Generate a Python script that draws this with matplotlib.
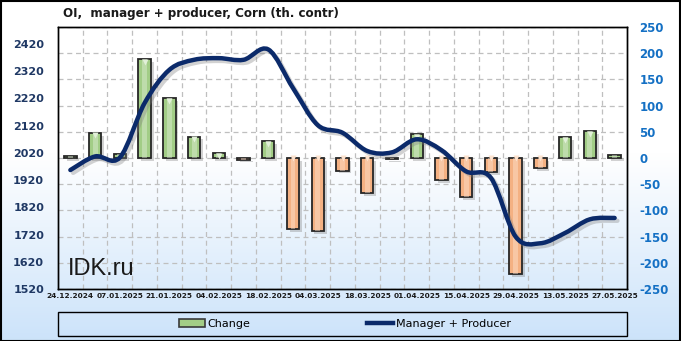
import numpy as np
import matplotlib
matplotlib.use("Agg")
import matplotlib.pyplot as plt
import matplotlib.patheffects as pe
from matplotlib.path import Path
from matplotlib.patches import PathPatch, Rectangle, Patch
from matplotlib.lines import Line2D

dates = ["24.12.2024", "31.12.2024", "07.01.2025", "14.01.2025", "21.01.2025",
         "28.01.2025", "04.02.2025", "11.02.2025", "18.02.2025", "25.02.2025",
         "04.03.2025", "11.03.2025", "18.03.2025", "25.03.2025", "01.04.2025",
         "08.04.2025", "15.04.2025", "22.04.2025", "29.04.2025", "06.05.2025",
         "13.05.2025", "20.05.2025", "27.05.2025"]

change = [4, 48, 8, 189, 114, 41, 9, -3, 32, -136, -139, -24, -67, -2,
          45, -42, -74, -27, -221, -20, 40, 51, 5]

manager_producer = [1957, 2007, 2003, 2203, 2325, 2362, 2368, 2362, 2400, 2258,
                    2122, 2094, 2027, 2022, 2070, 2030, 1952, 1928, 1712, 1688,
                    1726, 1776, 1781]

left_ticks = list(range(1520, 2421, 100))
right_ticks = list(range(-250, 251, 50))

W, H = 681, 341
fig = plt.figure(figsize=(W / 100, H / 100), dpi=100)

# background gradient (white -> light blue)
bg = fig.add_axes([0, 0, 1, 1], zorder=-10)
grad = np.linspace(0, 1, 256)[:, None]
grad = np.clip((grad - 0.45) / 0.55, 0, 1)
top_c = np.array([1.0, 1.0, 1.0])
bot_c = np.array([0.80, 0.89, 0.98])
img = top_c * (1 - grad[..., None]) + bot_c * grad[..., None]
bg.imshow(img, aspect="auto", extent=[0, 1, 0, 1], origin="upper")
bg.set_axis_off()

left, right, top, bottom = 58, 627, 27, 289
rect = [left / W, 1 - bottom / H, (right - left) / W, (bottom - top) / H]

ax_bar = fig.add_axes(rect)
ax_bar.patch.set_alpha(0)
ax_line = ax_bar.twinx()

x = np.arange(len(dates))
green, orange = "#A2CD86", "#F4B183"
cols = [green if v >= 0 else orange for v in change]
light = ["#E2F0D9" if v >= 0 else "#FDE3CF" for v in change]

bars = ax_bar.bar(x, change, width=0.5, color=cols, edgecolor="#262626",
                  linewidth=1.3, zorder=3)
for b in bars:
    b.set_path_effects([pe.SimplePatchShadow(offset=(2, -2), shadow_rgbFace="0.5",
                                              alpha=0.35), pe.Normal()])
# inner highlight strip
ax_bar.bar(x, change, width=0.2, color=light, alpha=0.45, linewidth=0, zorder=4)
# small triangle at bar top (zero side for negatives)
tops = [max(v, 0) for v in change]
for xi, t, v, c in zip(x, tops, change, light):
    if abs(v) > 8:
        ax_bar.plot(xi, t - (5 if v >= 0 else 0), marker="v", ms=5, color=c,
                    mec="none", zorder=5)

ax_bar.set_xlim(-0.5, len(dates) - 0.5)
ax_bar.set_ylim(-250, 250)
ax_bar.yaxis.tick_right()
ax_bar.set_yticks(right_ticks)
ax_bar.set_yticklabels([str(t) for t in right_ticks], color="#1470C4",
                       fontsize=8.5, fontweight="bold")
ax_bar.set_xticks(x[::2])
ax_bar.set_xticklabels(dates[::2], fontsize=5.3, fontweight="bold", color="#1a1a1a")
ax_bar.set_xticks(x[:-1] + 0.5, minor=True)
ax_bar.tick_params(axis="both", which="both", length=0)
ax_bar.tick_params(axis="y", pad=9)
ax_bar.tick_params(axis="x", pad=3)
ax_bar.grid(True, axis="y", which="major", color="#BFBFBF", ls=(0, (4, 3)), lw=0.9)
ax_bar.grid(True, axis="x", which="minor", color="#BFBFBF", ls=(0, (4, 3)), lw=0.9)
ax_bar.set_axisbelow(True)

# smooth line through the weekly values
pts = np.column_stack([x, manager_producer]).astype(float)
n = len(pts)
verts = [pts[0]]
codes = [Path.MOVETO]
for i in range(n - 1):
    p0, p1, p2, p3 = pts[max(i - 1, 0)], pts[i], pts[i + 1], pts[min(i + 2, n - 1)]
    verts += [p1 + (p2 - p0) / 6, p2 - (p3 - p1) / 6, p2]
    codes += [Path.CURVE4] * 3
curve = PathPatch(Path(verts, codes), fill=False, edgecolor="#0B2A6A", lw=3.2,
                  capstyle="round", joinstyle="round", zorder=6)
curve.set_path_effects([pe.SimpleLineShadow(offset=(2, -2), shadow_color="0.5",
                                            alpha=0.35), pe.Normal()])
ax_line.add_patch(curve)
ax_line.set_ylim(1520, 1520 + 262 / (245 / 900))
ax_line.yaxis.tick_left()
ax_line.set_yticks(left_ticks)
ax_line.set_yticklabels([str(t) for t in left_ticks], color="#1F3864",
                        fontsize=8, fontweight="bold")
ax_line.tick_params(axis="y", length=0, pad=10)

for a in (ax_bar, ax_line):
    for s in a.spines.values():
        s.set_color("black")
        s.set_linewidth(1)

ax_line.text(0.018, 0.055, "IDK.ru", transform=ax_line.transAxes, fontsize=17,
             family="Liberation Sans", color="#1a1a1a", zorder=7)

fig.text(63 / W, 1 - 14 / H, "OI,  manager + producer, Corn (th. contr)",
         fontsize=8.6, fontweight="bold", color="#1a1a1a", va="center", ha="left")

# legend box
fig.patches.append(Rectangle((left / W, 1 - 336 / H), (right - left) / W, 24 / H,
                             transform=fig.transFigure, fill=False, ec="black", lw=1))
handles = [Patch(facecolor=green, edgecolor="#3a3a3a", lw=1.2, label="Change"),
           Line2D([], [], color="#0B2A6A", lw=3.2, label="Manager + Producer")]
fig.legend(handles=handles, loc="center", bbox_to_anchor=(345 / W, 1 - 324 / H),
           ncol=2, frameon=False, fontsize=8, handlelength=2.35, handleheight=0.7,
           handletextpad=0.25, columnspacing=10.5)

fig.patches.append(Rectangle((0.5 / W, 0.5 / H), (W - 1.5) / W, (H - 1.5) / H,
                             transform=fig.transFigure, fill=False, ec="black", lw=1.5))

fig.savefig("out.png", dpi=100)
